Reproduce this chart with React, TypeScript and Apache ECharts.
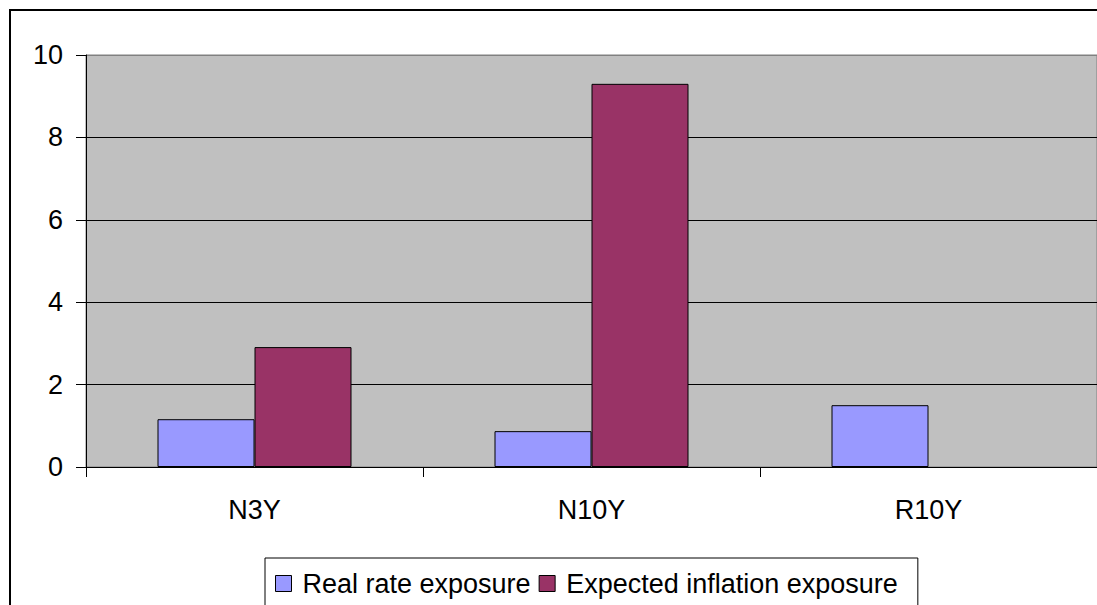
import React, { useEffect, useRef } from "react";
import * as echarts from "echarts";

const categories = ["N3Y", "N10Y", "R10Y"];
const realRate = [1.16, 0.87, 1.5];
const expectedInflation = [2.91, 9.3, null];
const seriesNames = ["Real rate exposure", "Expected inflation exposure"];

export default function App() {
  const ref = useRef<HTMLDivElement>(null);
  useEffect(() => {
    if (!ref.current) return;
    const chart = echarts.init(ref.current, undefined, { renderer: "svg" });
    chart.setOption({
      animation: false,
      backgroundColor: "#ffffff",
      textStyle: { fontFamily: "'Liberation Sans', Arial, sans-serif" },
      grid: {
        left: 86,
        top: 55,
        width: 1012.5,
        height: 412,
        show: true,
        backgroundColor: "#C0C0C0",
        borderColor: "#808080",
        borderWidth: 1,
      },
      legend: {
        data: seriesNames,
        left: 265,
        top: 558,
        padding: [12, 20, 30, 10],
        itemWidth: 16,
        itemHeight: 16,
        itemGap: 8,
        icon: "rect",
        backgroundColor: "#ffffff",
        borderColor: "#000000",
        borderWidth: 1,
        borderRadius: 0,
        itemStyle: { borderColor: "#000000", borderWidth: 1 },
        textStyle: {
          fontFamily: "'Liberation Sans', Arial, sans-serif",
          fontSize: 27,
          color: "#000000",
          padding: [0, 0, 0, 6],
        },
      },
      xAxis: {
        type: "category",
        data: categories,
        axisLine: { show: true, lineStyle: { color: "#000000", width: 1 } },
        axisTick: { show: true, length: 10, lineStyle: { color: "#000000" } },
        axisLabel: {
          fontSize: 27,
          color: "#000000",
          margin: 29,
          fontFamily: "'Liberation Sans', Arial, sans-serif",
        },
      },
      yAxis: {
        type: "value",
        min: 0,
        max: 10,
        interval: 2,
        axisLine: { show: true, lineStyle: { color: "#000000", width: 1 } },
        axisTick: { show: true, length: 10, lineStyle: { color: "#000000" } },
        axisLabel: {
          fontSize: 27,
          color: "#000000",
          margin: 23,
          fontFamily: "'Liberation Sans', Arial, sans-serif",
        },
        splitLine: {
          show: true,
          lineStyle: {
            color: ["#000000", "#000000", "#000000", "#000000", "#000000", "#808080"],
            width: 1,
          },
        },
      },
      series: [
        {
          name: seriesNames[0],
          type: "bar",
          data: realRate,
          barWidth: 97,
          barGap: "0%",
          itemStyle: { color: "#9999FF", borderColor: "#000000", borderWidth: 1 },
        },
        {
          name: seriesNames[1],
          type: "bar",
          data: expectedInflation,
          barWidth: 97,
          barGap: "0%",
          itemStyle: { color: "#993366", borderColor: "#000000", borderWidth: 1 },
        },
      ],
      graphic: [
        {
          type: "rect",
          shape: { x: 10, y: 10, width: 1200, height: 700 },
          style: { fill: "none", stroke: "#000000", lineWidth: 2 },
          z: 100,
        },
      ],
    });
    return () => chart.dispose();
  }, []);
  return (
    <div
      ref={ref}
      style={{ position: "absolute", left: 0, top: 0, width: 1097, height: 605 }}
    />
  );
}
